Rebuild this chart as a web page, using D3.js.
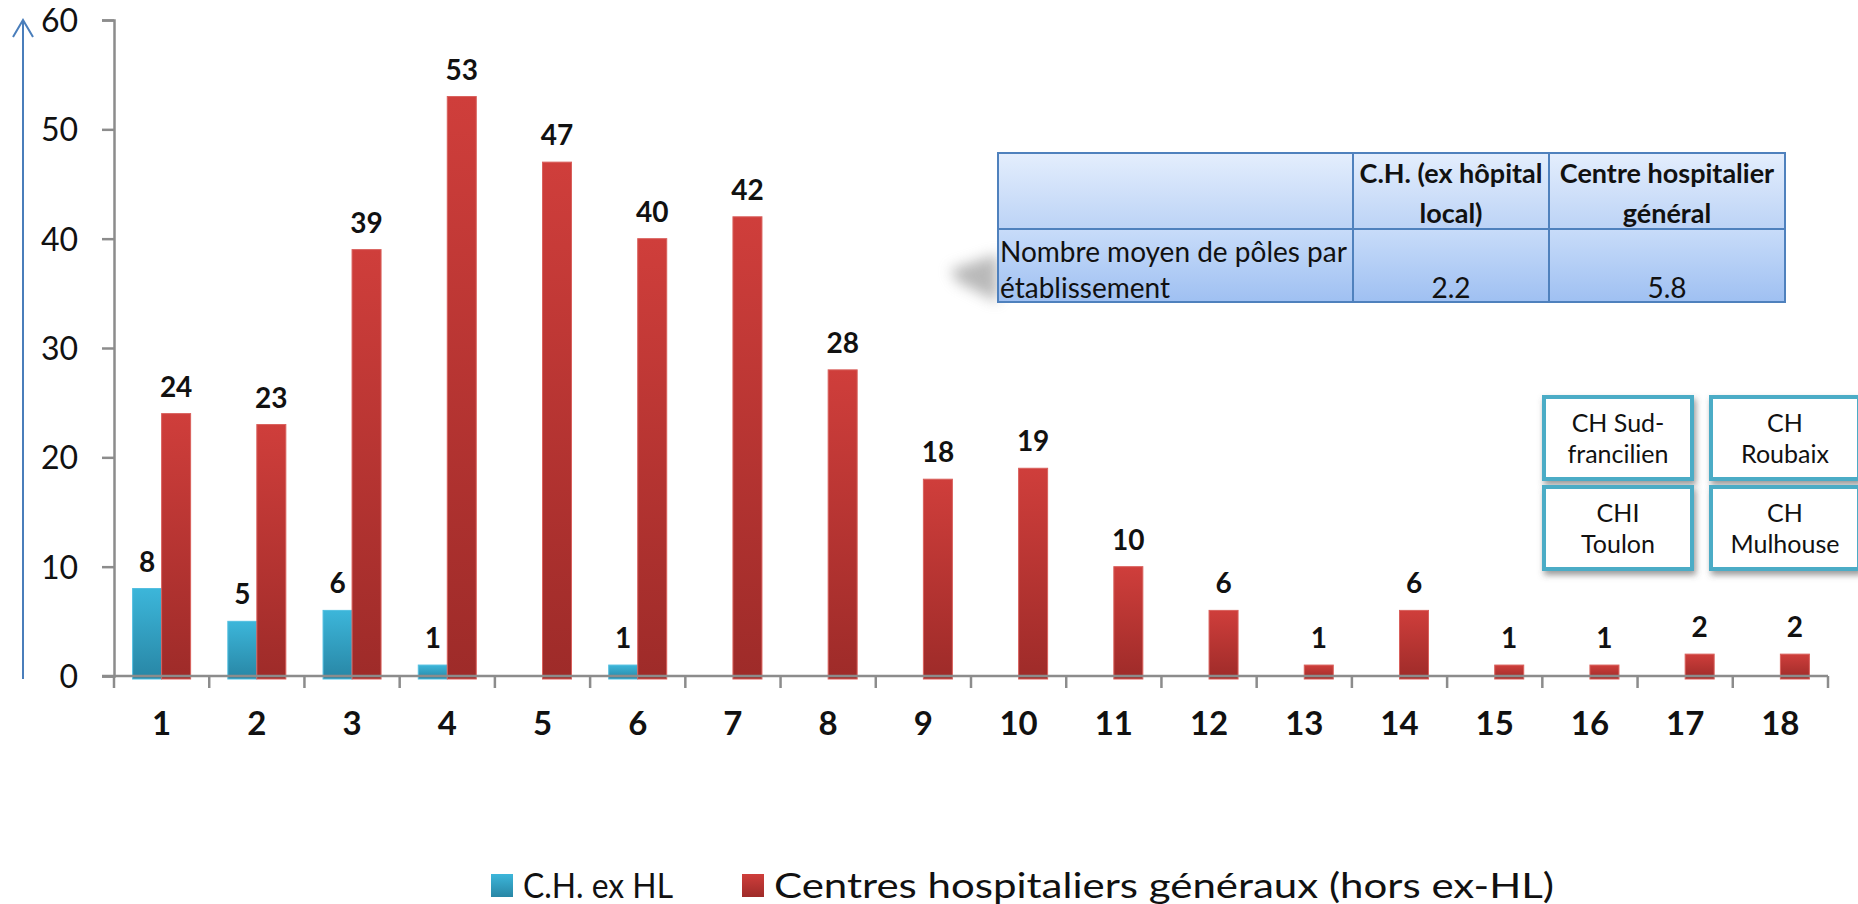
<!DOCTYPE html>
<html>
<head>
<meta charset="utf-8">
<script src="https://cdn.jsdelivr.net/npm/d3@7"></script>
<style>
  body { margin: 0; background: #fff; }
  svg { display: block; font-family: Lato, "Open Sans", sans-serif; }
</style>
</head>
<body>
<svg id="chart"></svg>
<script>
// données
const categories = ["1","2","3","4","5","6","7","8","9","10","11","12","13","14","15","16","17","18"];
const seriesNames = ["C.H. ex HL", "Centres hospitaliers généraux (hors ex-HL)"];
const exHL = [8, 5, 6, 1, 0, 1, 0, 0, 0, 0, 0, 0, 0, 0, 0, 0, 0, 0];
const chGeneraux = [24, 23, 39, 53, 47, 40, 42, 28, 18, 19, 10, 6, 1, 6, 1, 1, 2, 2];
const yTicks = [0, 10, 20, 30, 40, 50, 60];

// tableau et encadrés
const tableHeader = [["C.H. (ex hôpital", "local)"], ["Centre hospitalier", "général"]];
const tableRowLabel = ["Nombre moyen de pôles par", "établissement"];
const tableValues = ["2.2", "5.8"];
const boxLabels = [["CH Sud-", "francilien"], ["CH", "Roubaix"], ["CHI", "Toulon"], ["CH", "Mulhouse"]];

const width = 1858, height = 904;
const svg = d3.select("#chart").attr("width", width).attr("height", height);

const defs = svg.append("defs");
function grad(id, top, bottom) {
    const g = defs.append("linearGradient").attr("id", id)
        .attr("x1", 0).attr("y1", 0).attr("x2", 0).attr("y2", 1);
    g.append("stop").attr("offset", "0%").attr("stop-color", top);
    g.append("stop").attr("offset", "100%").attr("stop-color", bottom);
}
grad("gBlue", "#3cb6da", "#2886a5");
grad("gRed", "#cf3e3b", "#9e2b29");
grad("gHead", "#e4eefd", "#bcd3f6");
grad("gBody", "#c8dcf9", "#9fc0f2");

const shadow = defs.append("filter").attr("id", "shadow")
    .attr("x", "-20%").attr("y", "-20%").attr("width", "140%").attr("height", "150%");
shadow.append("feDropShadow").attr("dx", 2).attr("dy", 4).attr("stdDeviation", 3)
    .attr("flood-color", "#555").attr("flood-opacity", 0.6);
defs.append("filter").attr("id", "blur")
    .attr("x", "-50%").attr("y", "-50%").attr("width", "200%").attr("height", "200%")
    .append("feGaussianBlur").attr("stdDeviation", 7);

// échelles
const x = d3.scaleBand().domain(categories).range([114, 1828]).padding(0);
const xs = d3.scaleBand().domain([0, 1]).range([-29, 29]).padding(0);
const y = d3.scaleLinear().domain([0, 60]).range([676, 20]);

// flèche bleue à gauche
svg.append("line").attr("x1", 23).attr("x2", 23).attr("y1", 21).attr("y2", 679)
    .attr("stroke", "#4a7ebb").attr("stroke-width", 2);
svg.append("path").attr("d", "M13,37 L23,20 L33,37")
    .attr("fill", "none").attr("stroke", "#4a7ebb").attr("stroke-width", 2);

// axe Y
const yAxis = svg.append("g").attr("transform", "translate(114,0)")
    .call(d3.axisLeft(y).tickValues(yTicks).tickSize(12).tickPadding(24));
yAxis.select(".domain").attr("stroke", "#8c8c8c").attr("stroke-width", 2.5);
yAxis.selectAll(".tick line").attr("stroke", "#8c8c8c").attr("stroke-width", 2.5);
yAxis.selectAll(".tick text").attr("font-size", 32).attr("fill", "#111")
    .attr("font-family", "Lato, sans-serif").attr("dy", "0.36em");

// barres
const rows = categories.map((c, i) => ({ cat: c, vals: [exHL[i], chGeneraux[i]] }));
const fills = ["url(#gBlue)", "url(#gRed)"];
const groups = svg.append("g").selectAll("g").data(rows).join("g")
    .attr("transform", d => `translate(${x(d.cat) + x.bandwidth() / 2},0)`);

groups.selectAll("rect").data(d => d.vals.map((v, k) => ({ v, k })).filter(e => e.v > 0))
    .join("rect")
    .attr("x", e => xs(e.k))
    .attr("width", xs.bandwidth())
    .attr("y", e => y(e.v))
    .attr("height", e => y(0) - y(e.v) + 3)
    .attr("fill", e => fills[e.k])
    .attr("stroke", e => e.k ? "#d9605c" : "#52bfe0")
    .attr("stroke-width", 1);

groups.selectAll("text.val").data(d => d.vals.map((v, k) => ({ v, k })).filter(e => e.v > 0))
    .join("text").attr("class", "val")
    .attr("x", e => xs(e.k) + xs.bandwidth() / 2)
    .attr("y", e => y(e.v) - 17)
    .attr("text-anchor", "middle")
    .attr("font-size", 28).attr("font-weight", "bold").attr("fill", "#111")
    .text(e => e.v);

// axe X
const xAxis = svg.append("g");
xAxis.append("line").attr("x1", 102).attr("x2", 1828).attr("y1", y(0)).attr("y2", y(0))
    .attr("stroke", "#8c8c8c").attr("stroke-width", 2.5);
const bounds = categories.map(c => x(c)).concat([x.range()[1]]);
xAxis.selectAll("line.tk").data(bounds).join("line").attr("class", "tk")
    .attr("x1", d => d).attr("x2", d => d).attr("y1", y(0)).attr("y2", y(0) + 12)
    .attr("stroke", "#8c8c8c").attr("stroke-width", 2.5);
xAxis.selectAll("text").data(categories).join("text")
    .attr("x", d => x(d) + x.bandwidth() / 2)
    .attr("y", 735)
    .attr("text-anchor", "middle")
    .attr("font-size", 33).attr("font-weight", "bold").attr("fill", "#111")
    .text(d => d);

// tableau : ombre puis cellules
svg.append("polygon").attr("points", "998,254 950,270 958,282 998,302")
    .attr("fill", "#8a8a8a").attr("opacity", 0.6).attr("filter", "url(#blur)");

const colX = [998, 1353, 1549, 1785];
const rowY = [153, 229, 302];
const tbl = svg.append("g");
tbl.append("rect").attr("x", colX[0]).attr("y", rowY[0])
    .attr("width", colX[3] - colX[0]).attr("height", rowY[1] - rowY[0]).attr("fill", "url(#gHead)");
tbl.append("rect").attr("x", colX[0]).attr("y", rowY[1])
    .attr("width", colX[3] - colX[0]).attr("height", rowY[2] - rowY[1]).attr("fill", "url(#gBody)");
tbl.append("rect").attr("x", colX[0]).attr("y", rowY[0])
    .attr("width", colX[3] - colX[0]).attr("height", rowY[2] - rowY[0])
    .attr("fill", "none").attr("stroke", "#4f81bd").attr("stroke-width", 2);
tbl.append("line").attr("x1", colX[0]).attr("x2", colX[3]).attr("y1", rowY[1]).attr("y2", rowY[1])
    .attr("stroke", "#4f81bd").attr("stroke-width", 2);
[colX[1], colX[2]].forEach(cx => {
    tbl.append("line").attr("x1", cx).attr("x2", cx).attr("y1", rowY[0]).attr("y2", rowY[2])
        .attr("stroke", "#4f81bd").attr("stroke-width", 2);
});
tableHeader.forEach((lines, i) => {
    const cx = (colX[i + 1] + colX[i + 2]) / 2;
    lines.forEach((t, j) => {
        tbl.append("text").attr("x", cx).attr("y", 183 + j * 40)
            .attr("text-anchor", "middle").attr("font-size", 27).attr("font-weight", "bold")
            .attr("fill", "#111").text(t);
    });
});
tableRowLabel.forEach((t, j) => {
    tbl.append("text").attr("x", colX[0] + 2).attr("y", 262 + j * 36)
        .attr("font-size", 28).attr("fill", "#111").text(t);
});
tableValues.forEach((t, i) => {
    tbl.append("text").attr("x", (colX[i + 1] + colX[i + 2]) / 2).attr("y", 298)
        .attr("text-anchor", "middle").attr("font-size", 28).attr("fill", "#111").text(t);
});

// encadrés des établissements
const boxPos = [[1544, 397], [1711, 397], [1544, 487], [1711, 487]];
const boxes = svg.append("g").selectAll("g").data(boxLabels).join("g")
    .attr("transform", (d, i) => `translate(${boxPos[i][0]},${boxPos[i][1]})`);
boxes.append("rect").attr("width", 148).attr("height", 82)
    .attr("fill", "#fff").attr("stroke", "#4bacc6").attr("stroke-width", 4)
    .attr("filter", "url(#shadow)");
boxes.selectAll("text").data(d => d).join("text")
    .attr("x", 74).attr("y", (t, j) => 35 + j * 31)
    .attr("text-anchor", "middle").attr("font-size", 25).attr("fill", "#111")
    .text(t => t);

// légende
const legend = svg.append("g");
const legX = [491, 742];
const legLen = [150, 780];
seriesNames.forEach((name, i) => {
    legend.append("rect").attr("x", legX[i]).attr("y", 874).attr("width", 22).attr("height", 23)
        .attr("fill", fills[i]);
    legend.append("text").attr("x", legX[i] + 32).attr("y", 898)
        .attr("font-size", 35).attr("fill", "#111")
        .attr("textLength", legLen[i]).attr("lengthAdjust", "spacingAndGlyphs")
        .text(name);
});
</script>
</body>
</html>
